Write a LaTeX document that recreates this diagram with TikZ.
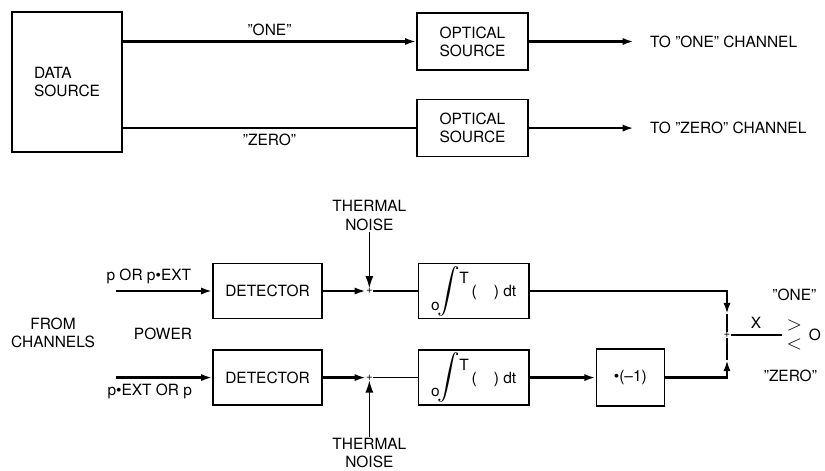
\documentclass[tikz,border=0pt]{standalone}
\usepackage{amsmath}
\usepackage{amssymb}
\usepackage{graphicx}
\usepackage{fontspec}
\setmainfont{TeX Gyre Heros}
\usepackage{tikz}
\usetikzlibrary{positioning, arrows.meta}

\newcommand{\intgl}{\raisebox{-1.7ex}{o}\hspace{-2pt}\scalebox{1.45}{$\displaystyle\int$}\raisebox{1.6ex}{T}\hspace{2pt}(\hspace{1.1em})\ dt}

\begin{document}
\begin{tikzpicture}[
    x=0.025cm, y=-0.025cm,
    every node/.style={font=\fontsize{11}{13}\selectfont},
    box/.style={rectangle, draw=black, line width=1.1pt, align=left},
    blk/.style={rectangle, draw=black, line width=1.1pt, minimum height=1.375cm,
                inner ysep=0pt, align=center},
    sum/.style={inner sep=0pt, font=\footnotesize},
    lbl/.style={inner sep=1pt, align=center},
    arr/.style={-{Latex[length=2.8mm, width=1.8mm]}, line width=1.7pt},
    noisearr/.style={-{Latex[length=3mm, width=2mm]}, line width=0.8pt},
    wire/.style={line width=1.7pt},
    thin wire/.style={line width=1pt}
]
\useasboundingbox (0,0) rectangle (825,470);

% Transmitter
\node[box, minimum width=2.75cm, minimum height=3.5cm] (src) at (67,82) {DATA\\SOURCE};
\node[box, minimum width=2.775cm, minimum height=1.425cm] (opt1) at (472.5,41.5) {OPTICAL\\SOURCE};
\node[box, minimum width=2.775cm, minimum height=1.425cm, below=0.7cm of opt1] (opt2) {OPTICAL\\SOURCE};

\draw[arr] (src.east |- opt1) -- node[lbl, above=2pt]{''ONE''} (opt1);
\draw[wire] (src.east |- opt2) -- node[lbl, below=2pt]{''ZERO''} (opt2);

\coordinate[right=2.625cm of opt1] (o1);
\coordinate[right=2.625cm of opt2] (o2);
\node[lbl, right=0.4cm of o1, inner sep=0pt] (to1) {TO ''ONE'' CHANNEL};
\node[lbl, right=0.4cm of o2, inner sep=0pt] (to2) {TO ''ZERO'' CHANNEL};
\draw[arr] (opt1) -- (o1);
\draw[arr] (opt2) -- (o2);

% Receiver
\node[blk, minimum width=2.725cm] (det1) at (267.5,291) {DETECTOR};
\node[blk, minimum width=2.725cm, below=0.75cm of det1] (det2) {DETECTOR};
\node[sum, right=1.075cm of det1] (sum1) {+};
\node[sum, right=1.075cm of det2] (sum2) {+};
\node[blk, minimum width=2.75cm, right=1.125cm of sum1] (int1) {\intgl};
\node[blk, minimum width=2.75cm, right=1.125cm of sum2] (int2) {\intgl};
\node[blk, minimum width=1.7cm, minimum height=1.425cm, right=1.65cm of int2] (neg) {\textbullet(--1)};
\node[sum] (sum3) at (727,335) {+};

% Inputs
\coordinate[left=2.4cm of det1] (in1);
\coordinate[left=2.4cm of det2] (in2);
\draw[arr] (in1) -- node[lbl, above=3pt, pos=0.34]{p OR p\textbullet EXT} (det1);
\draw[arr] (in2) -- node[lbl, below=3pt, pos=0.35]{p\textbullet EXT OR p} (det2);
\node[lbl] (from) at (53,333) {FROM\\CHANNELS};
\node[lbl] (pow) at (163,334) {POWER};

% Noise
\node[lbl, above=1.4cm of sum1] (tn1) {THERMAL\\NOISE};
\node[lbl, below=1.4cm of sum2] (tn2) {THERMAL\\NOISE};
\draw[noisearr] (tn1) -- (sum1);
\draw[noisearr] (tn2) -- (sum2);

% Signal path
\draw[arr] (det1) -- (sum1);
\draw[arr] (det2) -- (sum2);
\draw[thin wire] (sum1) -- (int1);
\draw[thin wire] (sum2) -- (int2);
\draw[arr] (int2) -- (neg);

\coordinate[above=0.45cm of sum3] (t1);
\coordinate[below=0.55cm of sum3] (t2);
\draw[arr] (int1) -| (t1);
\draw[wire] (t1) -- (sum3);
\draw[arr] (neg) -| (t2);
\draw[wire] (t2) -- (sum3);

% Decision
\node[inner xsep=0.12cm, inner ysep=0pt, right=1.275cm of sum3, font=\Large] (cmp) {\shortstack{$>$\\[2pt]$<$}};
\node[lbl, right=0pt of cmp] (thr) {O};
\node[lbl, above=0.45cm of cmp] (one) {''ONE''};
\node[lbl, below=0.45cm of cmp, xshift=-0.1cm] (zro) {''ZERO''};
\draw[wire] (sum3) -- node[lbl, above=3pt]{X} (cmp);

\end{tikzpicture}
\end{document}
